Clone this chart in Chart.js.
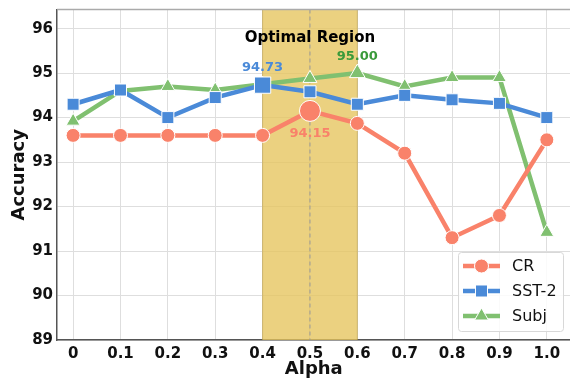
<!DOCTYPE html>
<html>
<head>
<meta charset="utf-8">
<script src="https://cdn.jsdelivr.net/npm/chart.js@4/dist/chart.umd.min.js"></script>
<style>
  body { margin: 0; overflow: hidden; background: #fff; }
  #wrap { width: 580px; height: 380px; }
</style>
</head>
<body>
<div id="wrap"><canvas id="chart"></canvas></div>
<script>
// data
const alphas = [0, 0.1, 0.2, 0.3, 0.4, 0.5, 0.6, 0.7, 0.8, 0.9, 1.0];
const xTickLabels = ['0', '0.1', '0.2', '0.3', '0.4', '0.5', '0.6', '0.7', '0.8', '0.9', '1.0'];
const yTicks = [89, 90, 91, 92, 93, 94, 95, 96];
const seriesNames = ['CR', 'SST-2', 'Subj'];
const crAcc = [93.6, 93.6, 93.6, 93.6, 93.6, 94.15, 93.87, 93.2, 91.3, 91.8, 93.5];
const sst2Acc = [94.3, 94.62, 94.0, 94.45, 94.73, 94.58, 94.3, 94.5, 94.4, 94.32, 94.0];
const subjAcc = [93.92, 94.6, 94.7, 94.62, 94.75, 94.88, 95.0, 94.7, 94.9, 94.9, 91.42];
const bestAlpha = [0.5, 0.4, 0.6];
const regionStart = 0.4, regionEnd = 0.6, regionMid = 0.5;
const regionLabel = 'Optimal Region';

const lineColors = ['#f9826a', '#4a8ad8', '#80c070'];
const labelColors = ['#f9826a', '#4a8ad8', '#3a9a3a'];
const styles = ['circle', 'rect', 'triangle'];
const normalRadius = [7, 8.5, 8];
const bigRadius = [10.5, 11.5, 9];

const allSeries = [crAcc, sst2Acc, subjAcc];

const datasets = allSeries.map((vals, i) => ({
  label: seriesNames[i],
  data: vals.map((v, j) => ({ x: alphas[j], y: v })),
  borderColor: lineColors[i],
  backgroundColor: lineColors[i],
  pointBackgroundColor: lineColors[i],
  pointBorderColor: '#ffffff',
  pointBorderWidth: 1,
  borderWidth: 4.5,
  pointStyle: styles[i],
  pointRadius: alphas.map(a => a === bestAlpha[i] ? bigRadius[i] : normalRadius[i]),
  pointHoverRadius: alphas.map(a => a === bestAlpha[i] ? bigRadius[i] : normalRadius[i]),
  tension: 0
}));

function marker(ctx, style, r, x, y, color) {
  ctx.save();
  ctx.fillStyle = color;
  ctx.strokeStyle = '#fff';
  ctx.lineWidth = 1;
  Chart.helpers.drawPoint(ctx, { pointStyle: style, radius: r, rotation: 0, borderWidth: 1 }, x, y);
  ctx.restore();
}

const extras = {
  id: 'extras',
  beforeDatasetsDraw(chart) {
    const { ctx, chartArea: a, scales: { x } } = chart;
    const x0 = x.getPixelForValue(regionStart), x1 = x.getPixelForValue(regionEnd);
    ctx.save();
    ctx.fillStyle = 'rgba(230, 196, 92, 0.78)';
    ctx.fillRect(x0, a.top, x1 - x0, a.bottom - a.top);
    ctx.strokeStyle = 'rgba(190, 160, 70, 0.6)';
    ctx.lineWidth = 1;
    ctx.beginPath();
    ctx.moveTo(x0, a.top); ctx.lineTo(x0, a.bottom);
    ctx.moveTo(x1, a.top); ctx.lineTo(x1, a.bottom);
    ctx.stroke();
    const xm = x.getPixelForValue(regionMid);
    ctx.strokeStyle = '#999';
    ctx.setLineDash([4, 3]);
    ctx.beginPath();
    ctx.moveTo(xm, a.top); ctx.lineTo(xm, a.bottom);
    ctx.stroke();
    ctx.restore();
    // top spine
    ctx.save();
    ctx.strokeStyle = '#aaa';
    ctx.lineWidth = 1.5;
    ctx.beginPath();
    ctx.moveTo(a.left, a.top); ctx.lineTo(a.right, a.top);
    ctx.stroke();
    ctx.restore();
  },
  afterDatasetsDraw(chart) {
    const { ctx, chartArea: a, scales: { x, y } } = chart;
    ctx.save();
    ctx.textAlign = 'center';
    ctx.textBaseline = 'middle';
    ctx.font = 'bold 15px "DejaVu Sans"';
    ctx.fillStyle = '#000';
    ctx.fillText(regionLabel, x.getPixelForValue(regionMid), 38);
    const offsets = [23, -17.5, -16.5];
    ctx.font = 'bold 13px "DejaVu Sans"';
    allSeries.forEach((vals, i) => {
      const j = alphas.indexOf(bestAlpha[i]);
      ctx.fillStyle = labelColors[i];
      ctx.fillText(vals[j].toFixed(2), x.getPixelForValue(alphas[j]), y.getPixelForValue(vals[j]) + offsets[i]);
    });
    ctx.restore();

    // legend
    const bx = 458, by = 252, bw = 105, bh = 79;
    ctx.save();
    ctx.fillStyle = 'rgba(255,255,255,0.85)';
    ctx.strokeStyle = '#d8d8d8';
    ctx.lineWidth = 1;
    ctx.beginPath();
    ctx.roundRect(bx + 0.5, by + 0.5, bw, bh, 3);
    ctx.fill();
    ctx.stroke();
    ctx.font = '16px "DejaVu Sans"';
    ctx.textAlign = 'left';
    ctx.textBaseline = 'middle';
    seriesNames.forEach((name, i) => {
      const ry = 266 + i * 25;
      ctx.strokeStyle = lineColors[i];
      ctx.lineWidth = 4.5;
      ctx.beginPath();
      ctx.moveTo(463, ry); ctx.lineTo(500, ry);
      ctx.stroke();
      marker(ctx, styles[i], normalRadius[i], 481.5, ry, lineColors[i]);
      ctx.fillStyle = '#111';
      ctx.fillText(name, 512, ry + 1);
    });
    ctx.restore();
  }
};

new Chart(document.getElementById('chart'), {
  type: 'line',
  data: { datasets },
  options: {
    responsive: true,
    maintainAspectRatio: false,
    animation: false,
    layout: { padding: { left: 0, top: 9, right: 8, bottom: 0 } },
    plugins: { legend: { display: false }, tooltip: { enabled: false } },
    scales: {
      x: {
        type: 'linear',
        min: -0.034,
        max: 1.05,
        afterBuildTicks: s => { s.ticks = alphas.map(v => ({ value: v })); },
        afterFit: s => { s.height = 40; s.paddingLeft = 0; s.paddingRight = 0; },
        ticks: {
          callback: (v) => xTickLabels[alphas.indexOf(v)],
          font: { family: 'DejaVu Sans', size: 15, weight: 'bold' },
          color: '#111',
          padding: 5,
          maxRotation: 0,
          autoSkip: false
        },
        grid: { color: '#dedede', lineWidth: 1, drawTicks: false },
        border: { color: '#555', width: 1.5 },
        title: {
          display: true,
          text: 'Alpha',
          font: { family: 'DejaVu Sans', size: 18, weight: 'bold' },
          color: '#111',
          padding: { top: 0, bottom: 0 }
        }
      },
      y: {
        min: 89,
        max: 96.43,
        afterBuildTicks: s => { s.ticks = yTicks.map(v => ({ value: v })); },
        afterFit: s => { s.width = 57; s.paddingTop = 0; s.paddingBottom = 0; },
        ticks: {
          font: { family: 'DejaVu Sans', size: 15, weight: 'bold' },
          color: '#111',
          padding: 4
        },
        grid: { color: '#dedede', lineWidth: 1, drawTicks: false },
        border: { color: '#555', width: 1.5 },
        title: {
          display: true,
          text: 'Accuracy',
          font: { family: 'DejaVu Sans', size: 18, weight: 'bold' },
          color: '#111',
          padding: { top: 9, bottom: 0 }
        }
      }
    }
  },
  plugins: [extras]
});
</script>
</body>
</html>
